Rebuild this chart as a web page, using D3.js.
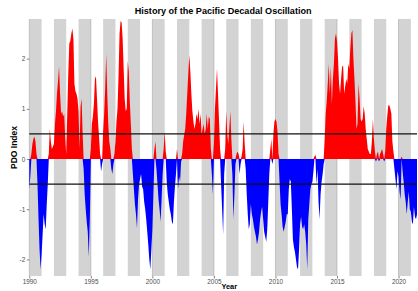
<!DOCTYPE html>
<html>
<meta charset="utf-8">
<head>
<title>History of the Pacific Decadal Oscillation</title>
<script src="https://d3js.org/d3.v7.min.js"></script>
<style>
  body { margin: 0; background: #fff; }
  text { font-family: "Liberation Sans", Arial, sans-serif; }
</style>
</head>
<body>
<svg class="chart"></svg>

<script>
// monthly PDO index, Jan 1990 .. Jul 2021
var startYear = 1990;

var pdo1990s = [
  -0.6, -0.35, 0.1, 0.3, 0.4, 0.45, 0.35, 0.1, -0.5, -1.2, -1.8, -2.2,   // 1990
  -1.9, -1.5, -1.1, -1.3, -1.4, -0.9, -0.5, 0.1, 0.6, 0.35, 0.2, 0.25,   // 1991
  0.3, 0.7, 0.95, 1.3, 1.55, 1.85, 1.3, 0.9, 0.95, 0.85, 0.9, 0.4,       // 1992
  0.1, 0.9, 1.7, 2.3, 2.35, 2.5, 2.6, 2.4, 1.5, 1.35, 1.3, 1.2,          // 1993
  0.95, 0.2, 1.05, 1.2, 0.5, -0.2, -0.7, -1.0, -1.25, -1.45, -1.95, -1.2, // 1994
  0.2, 0.7, 0.85, 1.1, 1.6, 1.65, 1.2, 0.75, 0.45, 0.1, -0.25, -0.1,     // 1995
  0.55, 0.9, 1.4, 2.1, 1.3, 0.7, 0.35, 0.2, -0.2, -0.3, -0.1, 0.1,       // 1996
  0.35, 0.75, 1.0, 1.65, 2.5, 2.75, 2.72, 2.4, 1.8, 1.2, 0.95, 1.0,      // 1997
  1.95, 1.75, 1.15, 0.7, 0.2, -0.3, -0.6, -0.9, -1.1, -1.38, -0.8, -0.5, // 1998
  -0.4, -0.3, -0.55, -0.6, -0.85, -1.0, -1.2, -1.45, -1.7, -2.0, -2.2, -1.8 // 1999
];

var pdo2000s = [
  -1.4, -0.7, 0.2, 0.35, -0.2, -0.5, -0.8, -1.0, -1.25, -0.8, -0.3, 0.2,   // 2000
  0.55, 0.15, -0.45, -0.7, -0.85, -1.0, -1.1, -1.25, -1.3, -0.85, -0.55, -0.3, // 2001
  0.2, -0.6, -0.35, -0.45, -0.05, 0.1, 0.35, 0.48, 0.6, 0.9, 1.3, 1.7,     // 2002
  2.07, 1.75, 1.3, 0.95, 0.75, 0.6, 0.7, 0.9, 0.8, 1.0, 0.7, 0.9,         // 2003
  0.5, 0.6, 0.7, 0.5, 0.6, 0.9, 0.6, 0.85, 0.8, 0.2, -0.3, -0.7,          // 2004
  0.3, 1.0, 1.4, 1.8, 1.3, 0.75, 0.2, -0.5, -1.0, -1.5, -0.3, 0.2,        // 2005
  0.95, 0.5, 0.3, 0.6, 0.95, 0.4, -0.3, -1.2, -0.7, -0.1, 0.1, 0.15,      // 2006
  0.1, -0.3, -0.1, 0.05, 0.2, 0.75, 0.3, -0.2, -0.7, -1.1, -1.4, -1.3,    // 2007
  -0.9, -1.1, -1.2, -1.35, -1.45, -1.55, -1.7, -1.6, -1.45, -1.2, -1.05, -0.95, // 2008
  -1.2, -1.45, -1.55, -1.65, -1.4, -0.85, -0.3, 0.2, 0.4, -0.1, 0.5, 0.75 // 2009
];

var pdo2010s = [
  0.8, 0.75, 0.55, 0.1, -0.45, -0.9, -1.1, -1.35, -1.45, -1.35, -1.25, -1.1, // 2010
  -1.1, -0.6, -0.4, -0.45, -1.0, -1.6, -1.75, -1.85, -2.0, -2.15, -2.2, -1.8, // 2011
  -1.3, -1.15, -1.35, -1.4, -1.3, -1.45, -1.7, -2.2, -1.2, -0.9, -0.6, -0.5,  // 2012
  -0.45, -0.25, 0.05, 0.08, -0.5, -0.2, -0.85, -1.2, -0.7, -0.45, -0.3, -0.1, // 2013
  0.4, 0.9, 1.15, 1.5, 1.9, 1.3, 1.85, 1.1, 1.6, 1.9, 2.4, 2.5,              // 2014
  2.35, 2.0, 1.5, 1.3, 1.6, 1.85, 1.85, 1.3, 1.45, 1.6, 1.5, 1.9,            // 2015
  1.8, 2.2, 2.5, 2.57, 2.0, 1.6, 1.15, 0.6, 0.7, 1.5, 1.2, 0.8,              // 2016
  0.75, 0.8, 1.05, 0.9, 0.6, 0.4, 0.2, 0.15, 0.1, 0.1, 0.35, 0.8,            // 2017
  0.4, 0.15, -0.05, 0.1, 0.15, -0.05, 0.1, 0.15, 0.2, 0.1, -0.05, 0.15,      // 2018
  0.6, 0.85, 1.07, 1.07, 1.0, 0.9, 0.35, 0.15, -0.2, -0.4, -0.6, -0.25       // 2019
];

var pdo2020s = [
  -0.35, -0.65, -0.8, 0.05, -0.25, -0.45, -0.7, -0.85, -1.1, -0.85, -0.65, -1.0, // 2020
  -1.05, -1.25, -1.3, -0.95, -1.15, -1.2, -1.1                                   // 2021
];

var yTicks = [-2, -1, 0, 1, 2];
var xTicks = [1990, 1995, 2000, 2005, 2010, 2015, 2020];
var refLines = [-0.5, 0.5];
var bandYears = d3.range(1990, 2021, 2);

var values = pdo1990s.concat(pdo2000s, pdo2010s, pdo2020s);
var data = values.map(function(v, i) {
  return { t: startYear + i / 12, v: v };
});

var W = 418, H = 291;
var margin = { top: 19, right: 1, bottom: 15, left: 29.3 };

var svg = d3.select(".chart")
  .attr("width", W)
  .attr("height", H);

var x = d3.scaleLinear()
  .domain([startYear, data[data.length - 1].t])
  .range([margin.left, W - margin.right]);

var y = d3.scaleLinear()
  .domain([-2.33, 2.79])
  .range([H - margin.bottom, margin.top]);

// alternating grey bands for even years
svg.append("g")
  .selectAll("rect")
  .data(bandYears)
  .enter()
  .append("rect")
  .attr("x", function(d) { return x(d); })
  .attr("y", margin.top)
  .attr("width", function(d) { return x(Math.min(d + 1, x.domain()[1])) - x(d); })
  .attr("height", y.range()[0] - margin.top)
  .attr("fill", "#d3d3d3");

// grid lines every 5 years
svg.append("g")
  .selectAll("line")
  .data(xTicks)
  .enter()
  .append("line")
  .attr("x1", function(d) { return x(d); })
  .attr("x2", function(d) { return x(d); })
  .attr("y1", margin.top)
  .attr("y2", y.range()[0])
  .attr("stroke", "#a6a6a6")
  .attr("stroke-width", 0.6);

var posArea = d3.area()
  .x(function(d) { return x(d.t); })
  .y0(y(0))
  .y1(function(d) { return y(Math.max(d.v, 0)); });

var negArea = d3.area()
  .x(function(d) { return x(d.t); })
  .y0(y(0))
  .y1(function(d) { return y(Math.min(d.v, 0)); });

svg.append("path")
  .datum(data)
  .attr("d", posArea)
  .attr("fill", "#ff0000");

svg.append("path")
  .datum(data)
  .attr("d", negArea)
  .attr("fill", "#0000ff");

// +/- 0.5 reference lines
svg.append("g")
  .selectAll("line")
  .data(refLines)
  .enter()
  .append("line")
  .attr("x1", x.range()[0])
  .attr("x2", x.range()[1])
  .attr("y1", function(d) { return y(d); })
  .attr("y2", function(d) { return y(d); })
  .attr("stroke", "#111")
  .attr("stroke-width", 1.2);

// axes
var xAxis = d3.axisBottom(x)
  .tickValues(xTicks)
  .tickFormat(d3.format("d"))
  .tickSize(2.5)
  .tickPadding(0.5);

var yAxis = d3.axisLeft(y)
  .tickValues(yTicks)
  .tickFormat(function(d) { return String(d); })
  .tickSize(2.5)
  .tickPadding(1.5);

var gx = svg.append("g")
  .attr("transform", "translate(0," + y.range()[0] + ")")
  .call(xAxis);

var gy = svg.append("g")
  .attr("transform", "translate(" + margin.left + ",0)")
  .call(yAxis);

[gx, gy].forEach(function(g) {
  g.select(".domain").remove();
  g.selectAll(".tick line").attr("stroke", "#333").attr("stroke-width", 0.6);
  g.selectAll(".tick text")
    .attr("fill", "#4d4d4d")
    .style("font-size", "6.4px");
});

// titles
svg.append("text")
  .attr("x", (x.range()[0] + x.range()[1]) / 2)
  .attr("y", 14)
  .attr("text-anchor", "middle")
  .style("font-size", "9.1px")
  .style("font-weight", "bold")
  .text("History of the Pacific Decadal Oscillation");

svg.append("text")
  .attr("transform", "translate(17," + ((margin.top + y.range()[0]) / 2) + ") rotate(-90)")
  .attr("text-anchor", "middle")
  .style("font-size", "8.5px")
  .style("font-weight", "bold")
  .text("PDO Index");

// sits just right of the 2005 label, like the original
svg.append("text")
  .attr("x", 229.3)
  .attr("y", 289.3)
  .attr("text-anchor", "middle")
  .style("font-size", "7.4px")
  .style("font-weight", "bold")
  .text("Year");
</script>
</body>
</html>
